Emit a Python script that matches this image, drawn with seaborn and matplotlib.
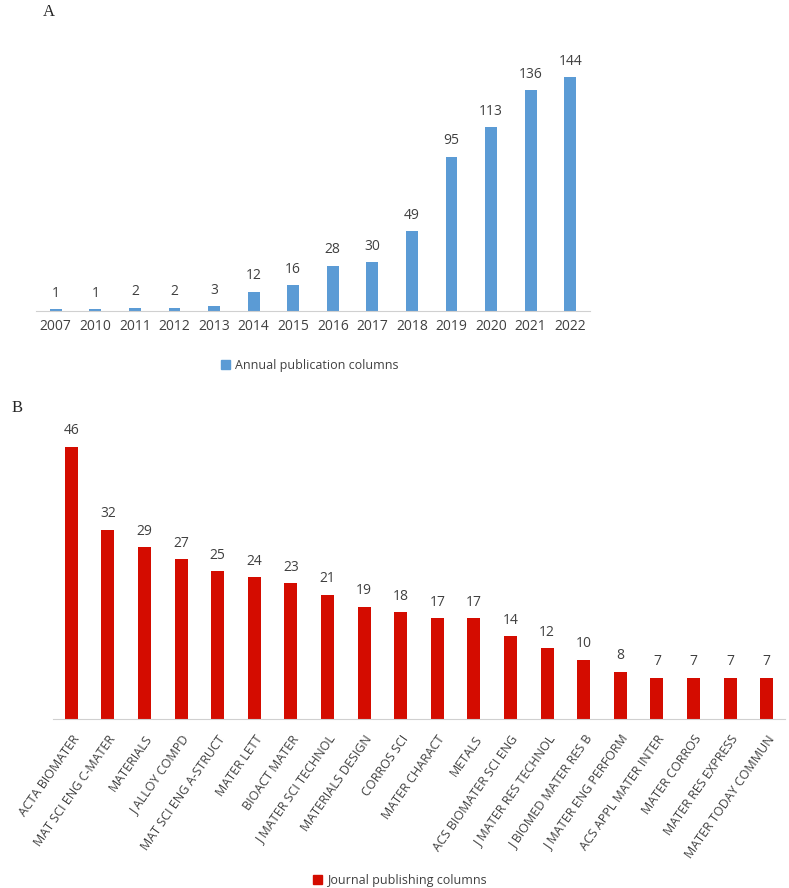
import numpy as np
import pandas as pd
import seaborn as sns
import matplotlib.pyplot as plt
from matplotlib.patches import Patch

years = ["2007", "2010", "2011", "2012", "2013", "2014", "2015",
         "2016", "2017", "2018", "2019", "2020", "2021", "2022"]
annual_counts = [1, 1, 2, 2, 3, 12, 16, 28, 30, 49, 95, 113, 136, 144]

journals = ["ACTA BIOMATER", "MAT SCI ENG C-MATER", "MATERIALS", "J ALLOY COMPD",
            "MAT SCI ENG A-STRUCT", "MATER LETT", "BIOACT MATER", "J MATER SCI TECHNOL",
            "MATERIALS DESIGN", "CORROS SCI", "MATER CHARACT", "METALS",
            "ACS BIOMATER SCI ENG", "J MATER RES TECHNOL", "J BIOMED MATER RES B",
            "J MATER ENG PERFORM", "ACS APPL MATER INTER", "MATER CORROS",
            "MATER RES EXPRESS", "MATER TODAY COMMUN"]
journal_counts = [46, 32, 29, 27, 25, 24, 23, 21, 19, 18, 17, 17, 14, 12, 10, 8, 7, 7, 7, 7]

BLUE = "#5B9BD5"
RED = "#D40C00"
TXT = "#404040"

sns.set_style("white")
plt.rcParams["font.family"] = ["Open Sans", "DejaVu Sans"]

W, H = 789, 888
fig = plt.figure(figsize=(W / 100, H / 100), dpi=100)


def px_axes(left, right, base, top):
    return fig.add_axes([left / W, (H - base) / H, (right - left) / W, (base - top) / H])


def excel_bars(ax, cats, vals, color, width, ymax, fs, rot, lfs, pad):
    df = pd.DataFrame({"cat": cats, "val": vals})
    sns.barplot(data=df, x="cat", y="val", color=color, width=width, ax=ax,
                saturation=1, edgecolor="none")
    ax.set_ylim(0, ymax)
    ax.set_xlim(-0.5, len(cats) - 0.5)
    for i, v in enumerate(vals):
        ax.annotate(str(v), (i, v), xytext=(0, 6), textcoords="offset points",
                    ha="center", va="bottom", fontsize=fs, color=TXT)
    for s in ["top", "right", "left"]:
        ax.spines[s].set_visible(False)
    ax.spines["bottom"].set_color("#D0D0D0")
    ax.set_yticks([])
    ax.set_xlabel("")
    ax.set_ylabel("")
    # boundary ticks between categories, Excel style
    ax.set_xticks(np.arange(-0.5, len(cats)), minor=True)
    ax.tick_params(axis="x", which="minor", length=5, color="#D0D0D0", direction="out")
    ax.tick_params(axis="x", which="major", length=0, pad=pad, labelsize=lfs, labelcolor=TXT)
    if rot:
        ax.set_xticks(range(len(cats)))
        ax.set_xticklabels(cats, rotation=rot, ha="right", rotation_mode="anchor")


# Panel A
ax1 = px_axes(36, 590, 311, 51)
excel_bars(ax1, years, annual_counts, BLUE, 0.3, 160, 10, 0, 10, 6)
fig.text(43 / W, 1 - 12 / H, "A", family="Liberation Serif", fontsize=12, ha="left", va="center")
fig.legend(handles=[Patch(color=BLUE, label="Annual publication columns")],
           loc="center", bbox_to_anchor=(310 / W, 1 - 365 / H), frameon=False,
           fontsize=9, handlelength=0.7, handleheight=0.7, handletextpad=0.4,
           labelcolor=TXT)

# Panel B
ax2 = px_axes(53, 785, 719, 423)
excel_bars(ax2, journals, journal_counts, RED, 0.35, 50, 10, 55, 9, 10)
fig.text(12 / W, 1 - 408 / H, "B", family="Liberation Serif", fontsize=12, ha="left", va="center")
fig.legend(handles=[Patch(color=RED, label="Journal publishing columns")],
           loc="center", bbox_to_anchor=(400 / W, 1 - 880 / H), frameon=False,
           fontsize=9, handlelength=0.7, handleheight=0.7, handletextpad=0.4,
           labelcolor=TXT)

fig.savefig("out.png", dpi=100)
